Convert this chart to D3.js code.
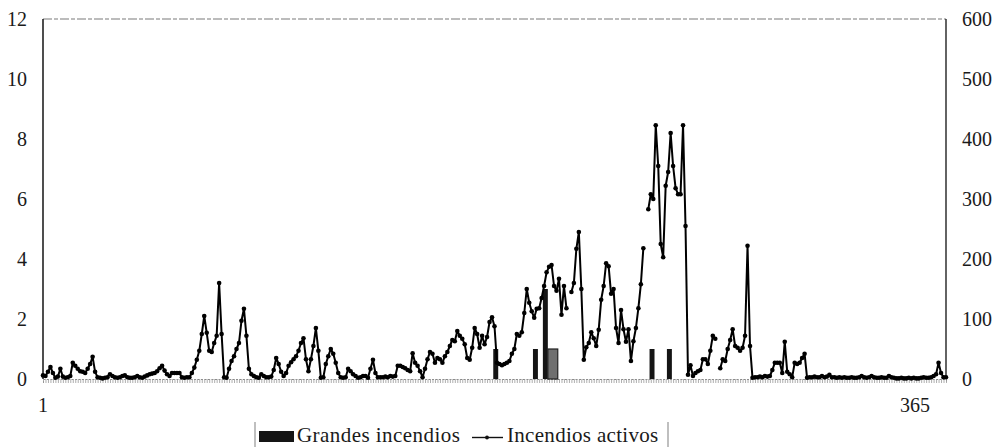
<!DOCTYPE html>
<html>
<head>
<meta charset="utf-8">
<script src="https://cdn.jsdelivr.net/npm/d3@7/dist/d3.min.js"></script>
<style>
  html, body { margin: 0; padding: 0; background: #fff; }
  svg { display: block; }
  text { font-family: "Liberation Serif", "DejaVu Serif", serif; fill: #1a1a1a; }
</style>
</head>
<body>
<svg id="chart" width="997" height="447"></svg>
<script>
// ---------- DATA ----------
const dias = d3.range(1, 366);

// Incendios activos (right axis), one value per day, null = no data
const incendiosActivos = [
  6, 5, 12, 20, 10, 2, 4, 17, 4, 2,
  3, 5, 27, 22, 17, 13, 12, 10, 17, 25,
  37, 12, 3, 2, 1, 2, 3, 8, 5, 3,
  2, 3, 5, 6, 3, 2, 2, 3, 5, 3,
  2, 4, 6, 8, 9, 10, 13, 18, 22, 14,
  8, 5, 10, 10, 10, 10, 3, 2, 3, 3,
  10, 19, 32, 47, 75, 105, 77, 47, 45, 60,
  72, 160, 75, 3, 2, 17, 30, 38, 50, 60,
  97, 117, 72, 17, 8, 5, 3, 2, 8, 5,
  3, 3, 4, 15, 35, 25, 12, 5, 10, 22,
  28, 33, 38, 47, 60, 68, 33, 13, 33, 55,
  85, 47, 2, 3, 25, 38, 50, 42, 27, 10,
  3, 2, 3, 17, 13, 8, 5, 2, 3, 5,
  5, 2, 17, 32, 10, 3, 3, 3, 4, 3,
  5, 4, 5, 22, 22, 20, 18, 15, 13, 43,
  27, 22, 13, 3, 17, 33, 45, 42, 27, 35,
  33, 27, 38, 45, 55, 65, 63, 80, 72, 67,
  58, 35, 32, 52, 85, 75, 52, 72, 58, 70,
  95, 103, 88, 27, 25, 23, 25, 27, 30, 42,
  50, 75, 72, 78, 110, 150, 127, 113, 102, 117,
  118, 135, 155, 178, 187, 190, 155, 147, 167, 107,
  155, 118, null, 145, 160, 217, 245, 150, 32, 53,
  60, 78, 68, 55, 82, 132, 155, 193, 188, 142,
  150, 85, 60, 115, 83, 62, 83, 30, 63, 85,
  118, 158, 218, null, 283, 308, 300, 423, 355, 225,
  203, 322, 345, 410, 355, 318, 308, 308, 423, 255,
  7, 23, 5, 10, 13, 15, 33, 33, 25, 47,
  72, 67, null, 18, 33, 30, 50, 65, 83, 55,
  52, 47, 52, 72, 222, 55, 2, 3, 3, 4,
  3, 5, 4, 5, 15, 27, 27, 27, 10, 62,
  12, 8, 3, 27, 25, 27, 35, 42, 2, 3,
  3, 4, 3, 3, 5, 3, 4, 7, 3, 3,
  2, 3, 2, 3, 2, 2, 3, 2, 2, 3,
  5, 3, 2, 3, 5, 3, 2, 2, 3, 2,
  2, 5, 3, 2, 1, 1, 2, 1, 1, 2,
  1, 2, 1, 1, 2, 3, 2, 2, 3, 5,
  8, 27, 10, 3, 3
];

// Grandes incendios (left axis): days with a value
const grandesDias    = [183, 184, 199, 200, 203, 204, 205, 206, 207, 208, 246, 247, 253, 254];
const grandesValores = [1,   1,   1,   1,   3,   3,   1,   1,   1,   1,   1,   1,   1,   1];

const ticksIzq = [0, 2, 4, 6, 8, 10, 12];
const ticksDer = [0, 100, 200, 300, 400, 500, 600];
const etiquetasX = [1, 365];
const leyenda = ["Grandes incendios", "Incendios activos"];

// ---------- CHART ----------
const FONT = '"Liberation Serif", "DejaVu Serif", serif';
const svg = d3.select("#chart");
const X0 = 43, X1 = 946, Y0 = 379, Y1 = 19;

const x = d3.scaleLinear().domain([1, 365]).range([X0, X1]);
const yL = d3.scaleLinear().domain([0, 12]).range([Y0, Y1]);
const yR = d3.scaleLinear().domain([0, 600]).range([Y0, Y1]);
const step = x(2) - x(1);

// frame
svg.append("line").attr("x1", X0).attr("x2", X1).attr("y1", Y1).attr("y2", Y1)
  .attr("stroke", "#7a7a7a").attr("stroke-width", 1.2).attr("stroke-dasharray", "9 2 4 2");
svg.append("line").attr("x1", X1).attr("x2", X1).attr("y1", Y1).attr("y2", Y0)
  .attr("stroke", "#222").attr("stroke-width", 1.4);

// x axis: day ticks
const gx = svg.append("g").attr("transform", `translate(0,${Y0})`)
  .call(d3.axisBottom(x).tickValues(dias).tickSize(4).tickFormat(""));
gx.select(".domain").attr("stroke", "#888").attr("stroke-dasharray", "2 1.5");
gx.selectAll(".tick line").attr("stroke", "#999").attr("stroke-width", 0.8);

// bars (runs of consecutive days)
const grandes = grandesDias.map((d, i) => ({ d, v: grandesValores[i] }));
const runs = [];
grandes.forEach(g => {
  const last = runs[runs.length - 1];
  if (last && g.d === last.end + 1 && g.v === last.v) last.end = g.d;
  else runs.push({ start: g.d, end: g.d, v: g.v });
});
svg.append("g").selectAll("rect").data(runs).join("rect")
  .attr("x", r => x(r.start) - step / 2)
  .attr("width", r => x(r.end) - x(r.start) + step)
  .attr("y", r => yL(r.v))
  .attr("height", r => yL(0) - yL(r.v))
  .attr("fill", r => (r.end - r.start >= 2 ? "#6f6f6f" : "#151515"))
  .attr("stroke", r => (r.end - r.start >= 2 ? "#222" : "none"))
  .attr("stroke-width", 1.2);

// left axis line
svg.append("line").attr("x1", X0).attr("x2", X0).attr("y1", Y1).attr("y2", Y0)
  .attr("stroke", "#222").attr("stroke-width", 1.6);

// line series
const pts = dias.map((d, i) => ({ d, v: incendiosActivos[i] }));
const line = d3.line().defined(p => p.v != null).x(p => x(p.d)).y(p => yR(p.v));
svg.append("path").datum(pts).attr("d", line)
  .attr("fill", "none").attr("stroke", "#000").attr("stroke-width", 2)
  .attr("stroke-linejoin", "round");
svg.append("g").selectAll("circle").data(pts.filter(p => p.v != null)).join("circle")
  .attr("cx", p => x(p.d)).attr("cy", p => yR(p.v)).attr("r", 2.3).attr("fill", "#000");

// left axis labels
const gl = svg.append("g").attr("transform", `translate(${X0},0)`)
  .call(d3.axisLeft(yL).tickValues(ticksIzq).tickSize(0).tickPadding(16));
gl.attr("font-family", null);
gl.select(".domain").remove();
gl.selectAll("text").style("font-size", "20px").style("font-family", FONT).attr("fill", "#1a1a1a");

// right axis labels
const gr = svg.append("g").attr("transform", `translate(${X1},0)`)
  .call(d3.axisRight(yR).tickValues(ticksDer).tickSize(0).tickPadding(16));
gr.attr("font-family", null);
gr.select(".domain").remove();
gr.selectAll("text").style("font-size", "20px").style("font-family", FONT).attr("fill", "#1a1a1a");

// x labels
svg.append("g").selectAll("text").data(etiquetasX).join("text")
  .attr("x", d => x(d) - (d === 365 ? 31 : 0))
  .attr("y", 412)
  .attr("text-anchor", "middle")
  .style("font-size", "20px").style("font-family", FONT)
  .text(d => d);

// legend
const lg = svg.append("g");
lg.append("line").attr("x1", 255).attr("x2", 255).attr("y1", 422).attr("y2", 447)
  .attr("stroke", "#aaa").attr("stroke-width", 1.5);
lg.append("line").attr("x1", 668).attr("x2", 668).attr("y1", 422).attr("y2", 447)
  .attr("stroke", "#aaa").attr("stroke-width", 1.5);
lg.append("rect").attr("x", 259).attr("y", 431).attr("width", 35).attr("height", 11).attr("fill", "#151515");
lg.append("text").attr("x", 297).attr("y", 442).style("font-size", "21px").style("font-family", FONT)
  .style("letter-spacing", "0.45px").text(leyenda[0]);
lg.append("line").attr("x1", 472).attr("x2", 503).attr("y1", 437.5).attr("y2", 437.5)
  .attr("stroke", "#111").attr("stroke-width", 1.4);
lg.append("circle").attr("cx", 487).attr("cy", 437.5).attr("r", 1.9).attr("fill", "#111");
lg.append("text").attr("x", 507).attr("y", 442).style("font-size", "21px").style("font-family", FONT)
  .style("letter-spacing", "0.3px").text(leyenda[1]);
</script>
</body>
</html>
